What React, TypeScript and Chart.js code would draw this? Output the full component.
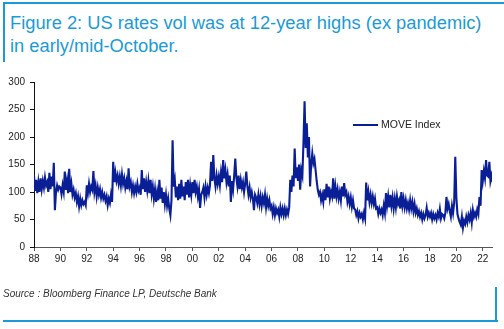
import React, { useEffect, useRef } from 'react';
import { Chart, registerables } from 'chart.js';

Chart.register(...registerables);

// MOVE Index, roughly monthly (alternating highs / lows of the daily band)
const move1988_1992 = [
  130, 102, 122, 98, 118, 100, 125, 105, 120, 108, 126, 112,
  118, 100, 135, 105, 128, 110, 153, 67, 100, 112, 104, 110,
  108, 96, 112, 100, 137, 104, 120, 98, 142, 100, 115, 95,
  104, 90, 98, 82, 92, 74, 88, 76, 85, 78, 82, 76,
  112, 98, 115, 100, 110, 104, 138, 100, 112, 92, 108, 95,
];
const move1993_1997 = [
  105, 90, 100, 88, 95, 84, 92, 76, 88, 80, 95, 82,
  155, 118, 135, 120, 130, 115, 128, 112, 132, 115, 125, 108,
  120, 105, 143, 110, 118, 100, 112, 98, 110, 100, 115, 102,
  108, 95, 140, 105, 125, 100, 118, 102, 120, 98, 122, 96,
  110, 88, 105, 82, 100, 85, 122, 88, 108, 80, 100, 78,
];
const move1998_2002 = [
  95, 75, 88, 70, 58, 85, 194, 110, 122, 90, 110, 85,
  115, 88, 122, 92, 110, 85, 118, 95, 122, 90, 112, 95,
  118, 98, 122, 100, 110, 92, 105, 71, 95, 100, 108, 90,
  110, 95, 108, 98, 112, 155, 120, 167, 125, 110, 130, 115,
  128, 112, 135, 118, 158, 125, 140, 118, 132, 110, 130, 82,
];
const move2003_2007 = [
  120, 105, 130, 161, 125, 110, 130, 105, 122, 108, 118, 100,
  115, 137, 110, 95, 108, 90, 100, 88, 67, 95, 90, 80,
  95, 78, 92, 75, 90, 80, 95, 72, 88, 75, 85, 70,
  75, 60, 72, 58, 70, 62, 68, 55, 72, 60, 70, 58,
  70, 58, 68, 60, 72, 122, 100, 130, 110, 179, 125, 145,
];
const move2008_2012 = [
  120, 150, 104, 140, 130, 190, 265, 180, 225, 163, 200, 110,
  150, 170, 152, 160, 140, 120, 104, 95, 100, 85, 95, 82,
  105, 85, 115, 90, 110, 88, 100, 92, 125, 88, 110, 92,
  105, 88, 100, 85, 110, 92, 116, 95, 100, 82, 92, 78,
  90, 73, 85, 70, 68, 58, 65, 52, 62, 55, 60, 50,
];
const move2013_2017 = [
  62, 52, 117, 85, 100, 82, 95, 80, 92, 78, 88, 70,
  72, 60, 70, 62, 68, 58, 75, 62, 98, 75, 92, 72,
  95, 75, 90, 70, 88, 72, 92, 78, 85, 70, 100, 75,
  88, 72, 85, 70, 80, 68, 85, 70, 82, 65, 78, 62,
  70, 58, 65, 55, 62, 50, 60, 52, 58, 71, 55, 62,
];
const move2018_2022 = [
  55, 62, 50, 60, 52, 58, 50, 62, 55, 69, 52, 60,
  58, 52, 62, 91, 70, 78, 65, 55, 75, 62, 80, 164,
  90, 60, 52, 45, 40, 55, 35, 48, 42, 55, 45, 58,
  50, 62, 45, 67, 55, 62, 55, 68, 60, 91, 75, 140,
  120, 138, 125, 158, 130, 128, 155, 120, 130, 118,
];

const blockStartYears = [1988, 1993, 1998, 2003, 2008, 2013, 2018];
const blocks = [move1988_1992, move1993_1997, move1998_2002, move2003_2007, move2008_2012, move2013_2017, move2018_2022];

const xTickYears = [1988, 1990, 1992, 1994, 1996, 1998, 2000, 2002, 2004, 2006, 2008, 2010, 2012, 2014, 2016, 2018, 2020, 2022];
const xTickLabels = ['88', '90', '92', '94', '96', '98', '00', '02', '04', '06', '08', '10', '12', '14', '16', '18', '20', '22'];
const yTickValues = [0, 50, 100, 150, 200, 250, 300];

const seriesLabel = 'MOVE Index';
const titleLine1 = 'Figure 2: US rates vol was at 12-year highs (ex pandemic)';
const titleLine2 = 'in early/mid-October.';
const sourceText = 'Source : Bloomberg Finance LP, Deutsche Bank';

const LINE = '#0A1F96';
const ACCENT = '#1A9BD7';
const FONT = '"Liberation Sans", Arial, Helvetica, sans-serif';

export default function App() {
  const canvasRef = useRef<HTMLCanvasElement | null>(null);

  useEffect(() => {
    const canvas = canvasRef.current;
    if (!canvas) return;
    const points: { x: number; y: number }[] = [];
    blocks.forEach((vals, b) => {
      vals.forEach((v, i) => points.push({ x: blockStartYears[b] + i / 12, y: v }));
    });

    const chart = new Chart(canvas, {
      type: 'line',
      data: {
        datasets: [
          {
            label: seriesLabel,
            data: points,
            borderColor: LINE,
            backgroundColor: LINE,
            borderWidth: 2.1,
            pointRadius: 0,
            tension: 0,
          },
        ],
      },
      options: {
        animation: false,
        responsive: false,
        devicePixelRatio: 1,
        layout: { padding: { left: 0, right: 12, top: 82, bottom: 62 } },
        plugins: { legend: { display: false }, tooltip: { enabled: false } },
        scales: {
          x: {
            type: 'linear',
            min: 1988,
            max: 2022.7,
            afterFit: (s: any) => { s.height = 20; },
            afterBuildTicks: (s: any) => { s.ticks = xTickYears.map((v) => ({ value: v })); },
            ticks: {
              autoSkip: false,
              maxRotation: 0,
              padding: 2,
              color: '#222',
              font: { family: FONT, size: 10 },
              callback: (v: any) => {
                const idx = xTickYears.indexOf(Number(v));
                return idx >= 0 ? xTickLabels[idx] : '';
              },
            },
            grid: { drawOnChartArea: false, drawTicks: true, tickLength: 4, color: '#555' },
            border: { display: true, color: '#555', width: 1 },
          },
          y: {
            type: 'linear',
            min: 0,
            max: 300,
            afterFit: (s: any) => { s.width = 34; },
            afterBuildTicks: (s: any) => { s.ticks = yTickValues.map((v) => ({ value: v })); },
            ticks: {
              padding: 5,
              color: '#222',
              font: { family: FONT, size: 10 },
            },
            grid: { drawOnChartArea: false, drawTicks: true, tickLength: 4, color: '#111' },
            border: { display: true, color: '#111', width: 1 },
          },
        },
      },
    });
    return () => chart.destroy();
  }, []);

  return (
    <div style={{ position: 'absolute', left: 0, top: 0, width: 504, height: 329, background: '#fff', overflow: 'hidden', fontFamily: FONT }}>
      <div style={{ position: 'absolute', left: 3, top: 2, width: 501, height: 2, background: ACCENT }} />
      <div style={{ position: 'absolute', left: 3, top: 2, width: 2, height: 60, background: ACCENT }} />
      <div style={{ position: 'absolute', left: 10, top: 11, fontSize: 18.3, lineHeight: '23px', color: ACCENT, whiteSpace: 'nowrap' }}>
        <div>{titleLine1}</div>
        <div>{titleLine2}</div>
      </div>
      <canvas ref={canvasRef} width={504} height={329} style={{ position: 'absolute', left: 0, top: 0, width: 504, height: 329 }} />
      <div style={{ position: 'absolute', left: 353, top: 124, width: 25, height: 2, background: LINE }} />
      <div style={{ position: 'absolute', left: 381, top: 118, fontSize: 10.5, lineHeight: '13px', color: '#222', whiteSpace: 'nowrap' }}>
        {seriesLabel}
      </div>
      <div style={{ position: 'absolute', left: 3, top: 288, fontSize: 10, lineHeight: '12px', fontStyle: 'italic', color: '#333', whiteSpace: 'nowrap' }}>
        {sourceText}
      </div>
      <div style={{ position: 'absolute', left: 3, top: 320, width: 495, height: 2, background: ACCENT }} />
      <div style={{ position: 'absolute', left: 495, top: 287, width: 2, height: 35, background: ACCENT }} />
    </div>
  );
}
